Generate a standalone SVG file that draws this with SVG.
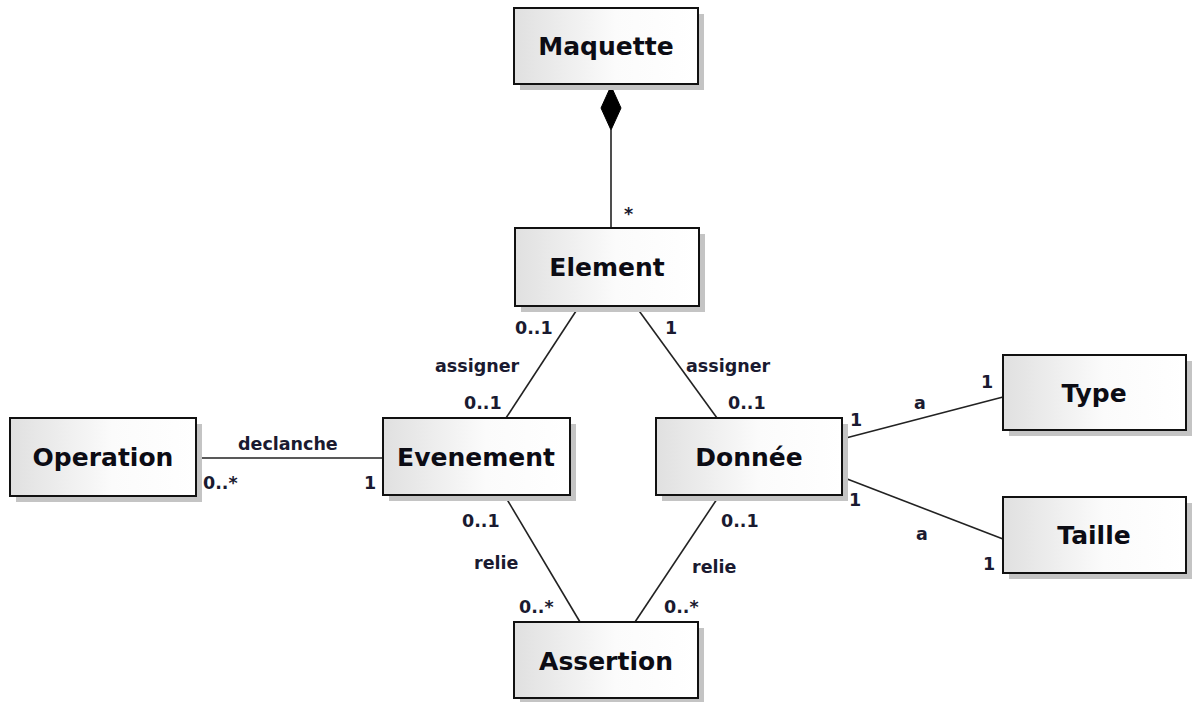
<svg xmlns="http://www.w3.org/2000/svg" width="1192" height="702" viewBox="0 0 1192 702">
<defs>
<linearGradient id="g" x1="0" y1="0" x2="1" y2="0">
<stop offset="0" stop-color="#e0e0e0"/>
<stop offset="0.55" stop-color="#fbfbfb"/>
<stop offset="1" stop-color="#ffffff"/>
</linearGradient>
<style>
.sh{fill:#c4c4c4}
.bx{fill:url(#g);stroke:#111;stroke-width:2}
.nm{font-family:"DejaVu Sans",Verdana,sans-serif;font-weight:bold;font-size:25px;fill:#0c0c14;text-anchor:middle}
.lb{font-family:"DejaVu Sans",Verdana,sans-serif;font-weight:bold;font-size:17.5px;fill:#1a1a30}
.ln{stroke:#222;stroke-width:1.6;fill:none}
</style>
</defs>
<rect width="1192" height="702" fill="#ffffff"/>
<g id="connectors">
<line class="ln" x1="611" y1="130" x2="611" y2="228"/>
<polygon points="611,86 621,108 611,130 601,108" fill="#000" stroke="#000" stroke-width="1"/>
<line class="ln" x1="578" y1="308" x2="506" y2="418"/>
<line class="ln" x1="637" y1="308" x2="717" y2="418"/>
<line class="ln" x1="196" y1="458" x2="383" y2="458"/>
<line class="ln" x1="842" y1="439" x2="1003" y2="397"/>
<line class="ln" x1="842" y1="477" x2="1003" y2="539"/>
<line class="ln" x1="505" y1="496" x2="580" y2="622"/>
<line class="ln" x1="719" y1="496" x2="635" y2="622"/>
<text class="lb" x="624" y="220">*</text>
<text class="lb" x="515" y="334">0..1</text>
<text class="lb" x="435" y="372">assigner</text>
<text class="lb" x="464" y="409">0..1</text>
<text class="lb" x="665" y="334">1</text>
<text class="lb" x="686" y="372">assigner</text>
<text class="lb" x="728" y="409">0..1</text>
<text class="lb" x="238" y="450">declanche</text>
<text class="lb" x="203" y="489">0..*</text>
<text class="lb" x="364" y="489">1</text>
<text class="lb" x="850" y="426">1</text>
<text class="lb" x="914" y="409">a</text>
<text class="lb" x="981" y="388">1</text>
<text class="lb" x="849" y="506">1</text>
<text class="lb" x="916" y="540">a</text>
<text class="lb" x="983" y="570">1</text>
<text class="lb" x="462" y="527">0..1</text>
<text class="lb" x="474" y="569">relie</text>
<text class="lb" x="519" y="613">0..*</text>
<text class="lb" x="721" y="527">0..1</text>
<text class="lb" x="692" y="573">relie</text>
<text class="lb" x="664" y="613">0..*</text>
</g>
<g id="Maquette">
<rect class="sh" x="520" y="14" width="184" height="76"/>
<rect class="bx" x="514" y="8" width="184" height="76"/>
<text class="nm" x="606" y="55">Maquette</text>
</g>
<g id="Element">
<rect class="sh" x="521" y="234" width="184" height="78"/>
<rect class="bx" x="515" y="228" width="184" height="78"/>
<text class="nm" x="607" y="276">Element</text>
</g>
<g id="Operation">
<rect class="sh" x="16" y="424" width="186" height="78"/>
<rect class="bx" x="10" y="418" width="186" height="78"/>
<text class="nm" x="103" y="466">Operation</text>
</g>
<g id="Evenement">
<rect class="sh" x="389" y="424" width="187" height="77"/>
<rect class="bx" x="383" y="418" width="187" height="77"/>
<text class="nm" x="476" y="466">Evenement</text>
</g>
<g id="Donnee">
<rect class="sh" x="662" y="424" width="186" height="77"/>
<rect class="bx" x="656" y="418" width="186" height="77"/>
<text class="nm" x="749" y="466">Donnée</text>
</g>
<g id="Type">
<rect class="sh" x="1009" y="361" width="183" height="75"/>
<rect class="bx" x="1003" y="355" width="183" height="75"/>
<text class="nm" x="1094" y="402">Type</text>
</g>
<g id="Taille">
<rect class="sh" x="1009" y="503" width="183" height="76"/>
<rect class="bx" x="1003" y="497" width="183" height="76"/>
<text class="nm" x="1094" y="544">Taille</text>
</g>
<g id="Assertion">
<rect class="sh" x="520" y="628" width="184" height="74"/>
<rect class="bx" x="514" y="622" width="184" height="76"/>
<text class="nm" x="606" y="670">Assertion</text>
</g>
</svg>
